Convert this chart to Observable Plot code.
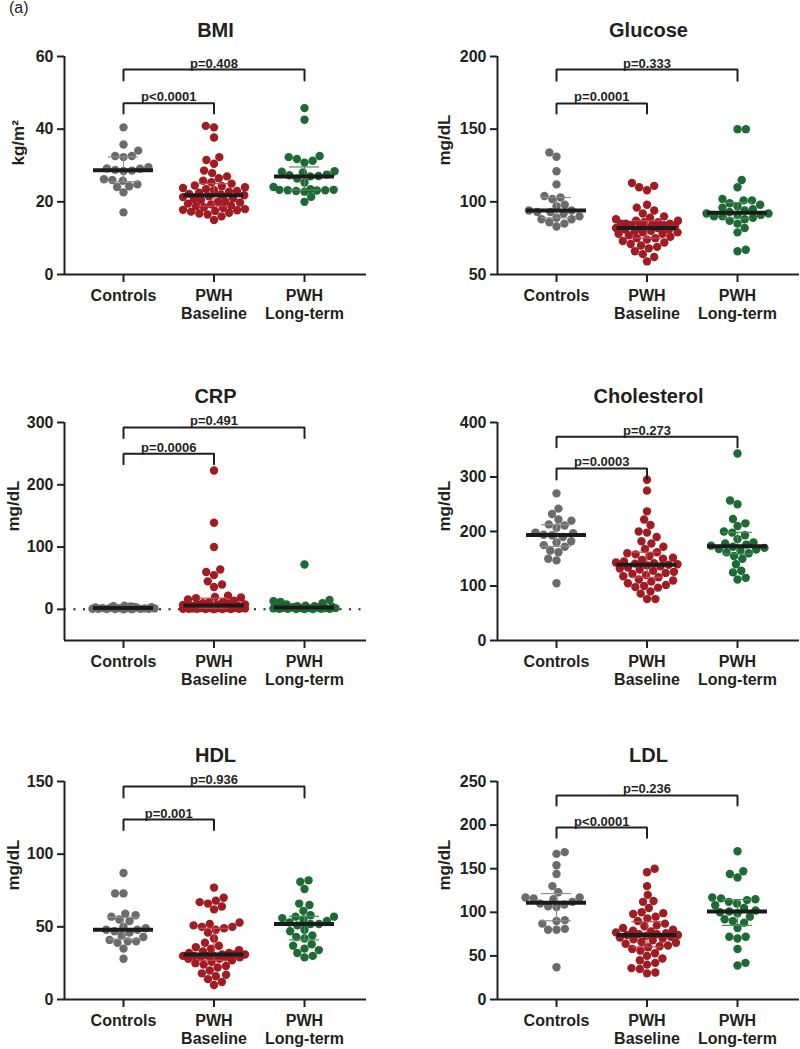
<!DOCTYPE html>
<html><head><meta charset="utf-8">
<script src="https://cdn.jsdelivr.net/npm/d3@7"></script>
<script src="https://cdn.jsdelivr.net/npm/@observablehq/plot@0.6"></script>
<style>
body{margin:0;background:#fff;}
#wrap{position:relative;width:800px;height:1049px;overflow:hidden;font-family:"Liberation Sans",Arial,sans-serif;}
.panel{position:absolute;}
#tag{position:absolute;left:9px;top:-1px;font-size:16px;color:#231f20;}
</style></head><body>
<div id="wrap"></div>
<script>
// ---- categories / styling lists ----
const groups = ["Controls", "PWH\nBaseline", "PWH\nLong-term"];
const colors = ["#6b6b6b", "#a11c22", "#1c6a34"];
const iqrColors = ["#8f8f8f", "#c9484e", "#4b8f5e"];

// ---- BMI (kg/m2) ----
const bmiControls = [40.5, 35.8, 34.1, 32.6, 32.6, 32.3, 29.5, 29.2, 29.1, 28.8, 28.6, 28.5, 26.2, 26.0, 25.8, 24.8, 24.3, 24.1, 22.6, 17.1];
const bmiBaseline = [40.9, 40.5, 37.7, 32.3, 31.5, 30.5, 28.6, 27.9, 27.0, 26.5, 25.8, 25.4, 25.0, 24.5, 24.3, 24.0, 23.8, 23.5, 23.2, 23.0, 22.8, 22.5, 22.2, 22.0, 21.8, 21.5, 21.3, 21.0, 20.8, 20.5, 20.2, 20.0, 19.8, 19.5, 19.3, 19.0, 18.8, 18.5, 18.3, 18.0, 17.8, 17.7, 17.5, 17.3, 17.0, 16.8, 16.5, 16.0, 15.0];
const bmiLongterm = [45.8, 42.6, 32.6, 32.3, 31.8, 31.3, 30.8, 28.4, 28.3, 28.1, 27.5, 27.3, 27.0, 27.1, 26.4, 25.3, 24.1, 23.5, 23.3, 23.3, 23.2, 23.2, 23.1, 23.0, 22.8, 21.4, 20.0];
const bmiBrackets = [
  {from: 1, to: 2, y: 47.1, end: 44.3, label: "p<0.0001"},
  {from: 1, to: 3, y: 56.4, end: 53.4, label: "p=0.408"}];

// ---- Glucose (mg/dL) ----
const gluControls = [134, 131, 121, 112, 104, 103, 102, 98, 97, 94, 94, 93, 93, 92, 90, 89, 88, 88, 86, 85, 83];
const gluBaseline = [113, 111, 110, 108, 98, 96, 94, 92, 90, 89, 88, 87, 87, 86, 86, 85, 85, 85, 84, 84, 84, 83, 83, 82, 82, 82, 81, 81, 80, 80, 79, 79, 78, 78, 77, 76, 75, 75, 74, 73, 72, 71, 70, 69, 68, 66, 64, 62, 59];
const gluLongterm = [150, 150, 115, 110, 102, 101, 101, 99, 98, 97, 96, 95, 94, 93, 92, 92, 91, 91, 90, 90, 89, 88, 87, 85, 82, 79, 67, 66];
const gluBrackets = [
  {from: 1, to: 2, y: 167.7, end: 160.8, label: "p=0.0001"},
  {from: 1, to: 3, y: 191, end: 183.4, label: "p=0.333"}];

// ---- CRP (mg/dL) ----
const crpControls = [6, 5, 4.5, 4, 3.5, 3, 3, 2.5, 2, 2, 2, 1.5, 1.5, 1, 1, 1, 0.8, 0.5, 0.5, 0.3, 0.2];
const crpBaseline = [223, 139, 100, 64, 60, 55, 45, 40, 36, 22, 20, 19, 18, 16, 14, 12, 11, 10, 9, 8, 8, 7, 7, 6, 6, 6, 5, 5, 4, 4, 3, 3, 3, 3, 2, 2, 2, 2, 2, 1.5, 1.5, 1, 1, 1, 1, 0.5, 0.5, 0.5, 0.3];
const crpLongterm = [72, 15, 13, 12, 10, 8, 6, 5, 5, 4, 4, 3, 3, 3, 2, 2, 2, 2, 2, 1.5, 1, 1, 1, 1, 0.5, 0.5, 0.5];
const crpBrackets = [
  {from: 1, to: 2, y: 250, end: 233, label: "p=0.0006"},
  {from: 1, to: 3, y: 292, end: 275, label: "p=0.491"}];

// ---- Cholesterol (mg/dL) ----
const cholControls = [270, 242, 232, 222, 220, 213, 211, 207, 198, 197, 194, 193, 190, 182, 180, 175, 172, 165, 162, 150, 147, 105];
const cholBaseline = [295, 275, 237, 222, 212, 200, 198, 190, 182, 178, 172, 168, 162, 160, 158, 155, 152, 150, 148, 145, 143, 142, 141, 140, 139, 138, 136, 134, 132, 130, 128, 126, 124, 122, 120, 118, 116, 112, 110, 108, 105, 102, 100, 98, 97, 90, 86, 76, 76];
const cholLongterm = [343, 257, 250, 223, 215, 210, 200, 198, 193, 186, 180, 178, 176, 174, 172, 170, 168, 167, 165, 162, 160, 155, 150, 140, 128, 125, 115, 112];
const cholBrackets = [
  {from: 1, to: 2, y: 315.6, end: 295.4, label: "p=0.0003"},
  {from: 1, to: 3, y: 374, end: 354.7, label: "p=0.273"}];

// ---- HDL (mg/dL) ----
const hdlControls = [87, 73, 73, 59, 58, 57, 55, 54, 50, 49, 48, 48, 47, 46, 44, 43, 41, 40, 40, 39, 35, 28];
const hdlBaseline = [77, 70, 68, 67, 66, 64, 62, 53, 52, 51, 50, 50, 49, 48, 46, 42, 39, 37, 36, 35, 34, 33, 32, 32, 31, 31, 31, 30, 30, 30, 30, 29, 29, 29, 28, 28, 27, 26, 25, 24, 23, 22, 20, 18, 17, 16, 14, 12, 10];
const hdlLongterm = [82, 81, 76, 66, 65, 61, 58, 57, 57, 56, 55, 54, 53, 52, 52, 51, 48, 47, 44, 43, 42, 38, 37, 35, 34, 32, 30, 29];
const hdlBrackets = [
  {from: 1, to: 2, y: 123.8, end: 116.7, label: "p=0.001"},
  {from: 1, to: 3, y: 146.6, end: 139, label: "p=0.936"}];

// ---- LDL (mg/dL) ----
const ldlControls = [169, 167, 154, 144, 130, 123, 117, 117, 116, 115, 112, 110, 109, 107, 106, 91, 90, 87, 81, 80, 80, 37];
const ldlBaseline = [150, 146, 130, 120, 113, 112, 105, 100, 99, 98, 95, 93, 90, 87, 85, 84, 82, 80, 79, 78, 77, 76, 75, 75, 74, 74, 73, 72, 71, 70, 69, 68, 66, 65, 64, 62, 61, 60, 58, 56, 53, 50, 47, 45, 42, 40, 36, 35, 31, 30];
const ldlLongterm = [170, 147, 144, 140, 117, 116, 115, 114, 112, 110, 108, 105, 102, 101, 100, 99, 95, 92, 90, 88, 82, 72, 72, 70, 58, 42, 39];
const ldlBrackets = [
  {from: 1, to: 2, y: 197.2, end: 185.5, label: "p<0.0001"},
  {from: 1, to: 3, y: 234, end: 222.5, label: "p=0.236"}];

// ---- layout ----
const FONT = '"Liberation Sans", Arial, sans-serif';
const INK = "#231f20";
const XMIN = 0.348, XMAX = 3.685;
const PW = 302, PH = 218;
const UNIT = PW / (XMAX - XMIN);

const panels = [
  {title: "BMI", ylabel: "kg/m²", labelDx: -46, domain: [0, 60], ticks: [0, 20, 40, 60], series: [bmiControls, bmiBaseline, bmiLongterm], brackets: bmiBrackets, left: 0, top: 0},
  {title: "Glucose", ylabel: "mg/dL", labelDx: -53, domain: [50, 200], ticks: [50, 100, 150, 200], series: [gluControls, gluBaseline, gluLongterm], brackets: gluBrackets, left: 433, top: 0},
  {title: "CRP", ylabel: "mg/dL", labelDx: -51, domain: [-50, 300], ticks: [0, 100, 200, 300], series: [crpControls, crpBaseline, crpLongterm], brackets: crpBrackets, left: 0, top: 366, zero: true},
  {title: "Cholesterol", ylabel: "mg/dL", labelDx: -53, domain: [0, 400], ticks: [0, 100, 200, 300, 400], series: [cholControls, cholBaseline, cholLongterm], brackets: cholBrackets, left: 433, top: 366},
  {title: "HDL", ylabel: "mg/dL", labelDx: -51, domain: [0, 150], ticks: [0, 50, 100, 150], series: [hdlControls, hdlBaseline, hdlLongterm], brackets: hdlBrackets, left: 0, top: 725},
  {title: "LDL", ylabel: "mg/dL", labelDx: -53, domain: [0, 250], ticks: [0, 50, 100, 150, 200, 250], series: [ldlControls, ldlBaseline, ldlLongterm], brackets: ldlBrackets, left: 433, top: 725}
];

// beeswarm offsets (pixels) computed from values
function swarm(values, yPx, D, maxW) {
  const order = values.map((v, i) => i).sort((a, b) => values[a] - values[b]);
  const placed = [];
  const dx = new Array(values.length);
  let flip = 1;
  for (const i of order) {
    const y = yPx(values[i]);
    const near = placed.filter(p => Math.abs(p.y - y) < D);
    const cands = [0];
    for (const p of near) {
      const w = Math.sqrt(D * D - (p.y - y) ** 2);
      cands.push(p.x - w, p.x + w);
    }
    cands.sort((a, b) => (Math.abs(a) - Math.abs(b)) || (flip * (a - b)));
    let best = null;
    for (const c of cands) {
      if (Math.abs(c) > maxW) break;
      if (near.every(p => (p.x - c) ** 2 + (p.y - y) ** 2 >= D * D - 1e-6)) { best = c; break; }
    }
    if (best === null) {
      let bestScore = -1;
      for (let k = 0; k <= maxW; k++) {
        for (const c of (k === 0 ? [0] : [flip * k, -flip * k])) {
          const s = Math.min(...near.map(p => (p.x - c) ** 2 + (p.y - y) ** 2));
          if (s > bestScore + 1e-9) { bestScore = s; best = c; }
        }
      }
    }
    flip = -flip;
    placed.push({x: best, y});
    dx[i] = best;
  }
  return dx;
}

function makePanel(cfg) {
  const [ymin, ymax] = cfg.domain;
  const yPx = v => (v - ymin) / (ymax - ymin) * PH;
  const pts = [], stats = [];
  cfg.series.forEach((vals, g) => {
    const dx = swarm(vals, yPx, 8.4, 31);
    vals.forEach((v, i) => pts.push({g, value: v, x: g + 1 + dx[i] / UNIT}));
    const s = vals.slice().sort(d3.ascending);
    stats.push({g, pos: g + 1, median: d3.quantileSorted(s, 0.5), q1: d3.quantileSorted(s, 0.25), q3: d3.quantileSorted(s, 0.75)});
  });
  const bracketPath = cfg.brackets.flatMap((b, k) => [
    {k, x: b.from, y: b.end}, {k, x: b.from, y: b.y}, {k, x: b.to, y: b.y}, {k, x: b.to, y: b.end}]);

  const marks = [];
  if (cfg.zero) marks.push(Plot.ruleY([0], {stroke: INK, strokeWidth: 2, strokeDasharray: "2,7.5"}));
  marks.push(
    Plot.dot(pts, {x: "x", y: "value", r: 4.2, fill: d => colors[d.g], stroke: "none"}),
    Plot.ruleX(stats, {x: "pos", y1: "q1", y2: "q3", stroke: d => iqrColors[d.g], strokeWidth: 1.2}),
    Plot.ruleY(stats, {y: "q1", x1: d => d.pos - 15 / UNIT, x2: d => d.pos + 15 / UNIT, stroke: d => iqrColors[d.g], strokeWidth: 1.2}),
    Plot.ruleY(stats, {y: "q3", x1: d => d.pos - 15 / UNIT, x2: d => d.pos + 15 / UNIT, stroke: d => iqrColors[d.g], strokeWidth: 1.2}),
    Plot.ruleY(stats, {y: "median", x1: d => d.pos - 30 / UNIT, x2: d => d.pos + 30 / UNIT, stroke: "#1b1b1b", strokeWidth: 4}),
    Plot.line(bracketPath, {x: "x", y: "y", z: "k", stroke: INK, strokeWidth: 2, strokeLinejoin: "miter", curve: "linear"}),
    Plot.text(cfg.brackets, {x: d => (d.from + d.to) / 2, y: "y", text: "label", lineAnchor: "bottom", dy: -2, fontSize: 13, fontWeight: "bold", fill: INK}),
    Plot.ruleX([XMIN], {stroke: INK, strokeWidth: 2}),
    Plot.ruleY([ymin], {stroke: INK, strokeWidth: 2}),
    Plot.axisY({ticks: cfg.ticks, tickSize: 7, tickPadding: 4, fontSize: 16, fontWeight: "bold", strokeWidth: 2, stroke: INK, fill: INK, label: null}),
    Plot.axisX({ticks: [1, 2, 3], tickFormat: i => groups[i - 1], tickSize: 8, tickPadding: 5, fontSize: 16, fontWeight: "bold", strokeWidth: 2, stroke: INK, fill: INK, lineHeight: 1.15, label: null}),
    Plot.text([cfg.title], {frameAnchor: "top", dy: -34, fontSize: 20, fontWeight: "bold", fill: INK}),
    Plot.text([cfg.ylabel], {frameAnchor: "left", dx: cfg.labelDx, rotate: -90, fontSize: 17, fontWeight: "bold", fill: INK})
  );

  return Plot.plot({
    width: 367, height: 324,
    marginLeft: 64, marginRight: 1, marginTop: 56, marginBottom: 50,
    style: {fontFamily: FONT, color: INK, background: "white", overflow: "visible"},
    x: {type: "linear", domain: [XMIN, XMAX]},
    y: {type: "linear", domain: cfg.domain},
    marks
  });
}

const wrap = document.getElementById("wrap");
for (const cfg of panels) {
  const div = document.createElement("div");
  div.className = "panel";
  div.style.left = cfg.left + "px";
  div.style.top = cfg.top + "px";
  div.appendChild(makePanel(cfg));
  wrap.appendChild(div);
}
const tag = document.createElement("div");
tag.id = "tag";
tag.textContent = "(a)";
wrap.appendChild(tag);
</script>
</body></html>
